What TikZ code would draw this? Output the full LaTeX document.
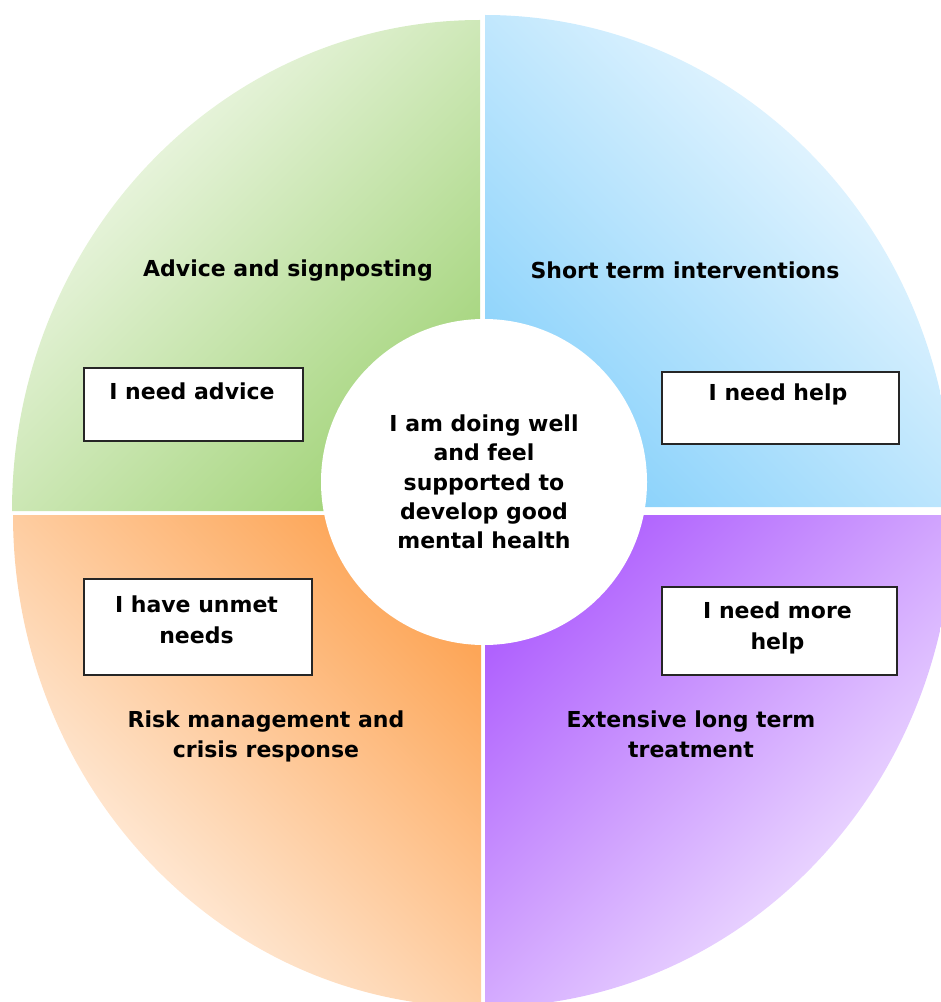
\documentclass[tikz,border=0pt]{standalone}
\usepackage{fontspec}
\setmainfont{DejaVu Sans}
\definecolor{gdark}{HTML}{A3D47A}
\definecolor{glight}{HTML}{F7FBF2}
\definecolor{bdark}{HTML}{8AD2FB}
\definecolor{blight}{HTML}{F4FBFF}
\definecolor{odark}{HTML}{FDA658}
\definecolor{olight}{HTML}{FFF6EE}
\definecolor{pdark}{HTML}{B062FE}
\definecolor{plight}{HTML}{F6EEFF}
\begin{document}
\begin{tikzpicture}[x=0.75pt,y=-0.75pt,
  lbl/.style={font=\fontsize{16.5pt}{22.5pt}\selectfont\bfseries, align=center, anchor=base, inner sep=0pt, text=black},
  boxtxt/.style={font=\fontsize{16.5pt}{23.25pt}\selectfont\bfseries, align=center, anchor=base, inner sep=0pt, text=black},
  needbox/.style={draw=black!85, line width=1.7pt, fill=white, rectangle, inner sep=0pt},
  hub/.style={circle, fill=white, inner sep=0pt, minimum size=244.5pt, align=center,
    font=\fontsize{16.5pt}{21.94pt}\selectfont\bfseries, text=black}]
\useasboundingbox (0,0) rectangle (940,1002);
% quadrants
\shade[top color=glight, bottom color=gdark, shading angle=45]
  (480,511) -- ++(-468,0) arc[start angle=180, end angle=270, x radius=468, y radius=491] -- cycle;
\shade[top color=blight, bottom color=bdark, shading angle=-45]
  (485,507) -- ++(0,-492) arc[start angle=270, end angle=360, x radius=468, y radius=492] -- cycle;
\shade[top color=odark, bottom color=olight, shading angle=-45]
  (481,515) -- ++(-468,0) arc[start angle=180, end angle=90, x radius=468, y radius=492] -- cycle;
\shade[top color=pdark, bottom color=plight, shading angle=45]
  (485,515) -- ++(468,0) arc[start angle=0, end angle=90, x radius=468, y radius=492] -- cycle;
% centre
\node[hub] (centre) at (484,482) {I am doing well\\and feel\\supported to\\develop good\\mental health};
% quadrant titles
\node[lbl] (advt) at (288,276) {Advice and signposting};
\node[lbl] (shortt) at (685,278) {Short term interventions};
\node[lbl] (riskt) at (266,757) {Risk management and\\crisis response};
\node[lbl] (extt) at (691,757) {Extensive long term\\treatment};
% boxes
\node[needbox, minimum width=164.25pt, minimum height=54.75pt] (advbox) at (193.5,404.5) {};
\node[boxtxt] (advtxt) at (192,399) {I need advice};
\node[needbox, minimum width=171pt, minimum height=72pt] (unmetbox) at (198,627) {};
\node[boxtxt] (unmettxt) at (196.5,643) {I have unmet\\needs};
\node[needbox, minimum width=177.75pt, minimum height=54pt] (helpbox) at (780.5,408) {};
\node[boxtxt] (helptxt) at (778,400) {I need help};
\node[needbox, minimum width=176.25pt, minimum height=66pt] (morebox) at (779.5,631) {};
\node[boxtxt] (moretxt) at (777.5,649) {I need more\\help};
\end{tikzpicture}
\end{document}
